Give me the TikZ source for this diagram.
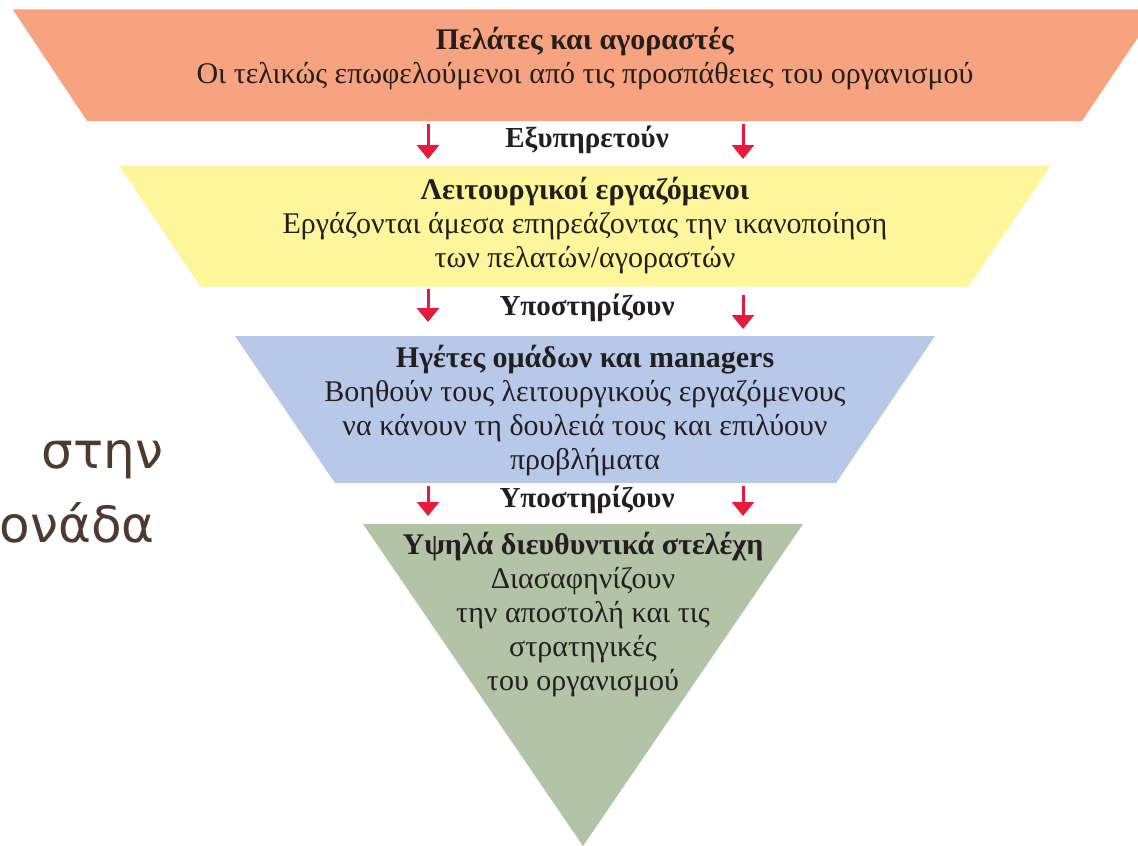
\documentclass[tikz,border=0pt]{standalone}
\usepackage{fontspec}
\setmainfont{Liberation Serif}
\newfontfamily\slidefont{DejaVu Sans}
\usetikzlibrary{arrows.meta}
\definecolor{custorange}{HTML}{F7A37F}
\definecolor{staffyellow}{HTML}{FFF59B}
\definecolor{leadblue}{HTML}{B8C8E8}
\definecolor{execgreen}{HTML}{B2C4A5}
\definecolor{arrowred}{HTML}{E8193C}
\definecolor{slidebrown}{HTML}{4E3B2E}
\definecolor{inkdark}{HTML}{231F20}

\begin{document}
\begin{tikzpicture}[x=1pt,y=-1pt,
  band/.style={align=center,text=inkdark,font=\fontsize{30}{34}\selectfont},
  flow/.style={-{Triangle[width=22pt,length=14pt]},arrowred,line width=3pt},
  flowlabel/.style={text=inkdark,font=\fontsize{29}{34}\selectfont\bfseries}]
\useasboundingbox (0,0) rectangle (1138,846);

% Customers and buyers
\fill[custorange] (12.7,9.3) -- (1157,9.3) -- (1082,121) -- (87,121) -- cycle;
\node[band] (cust) at (585,59) {\textbf{Πελάτες και αγοραστές}\\Οι τελικώς επωφελούμενοι από τις προσπάθειες του οργανισμού};

% Serve
\coordinate (s1a) at (428,124); \coordinate (s1b) at (428,159);
\coordinate (s1c) at (743,124); \coordinate (s1d) at (743,159);
\draw[flow] (s1a) -- (s1b);
\draw[flow] (s1c) -- (s1d);
\node[flowlabel] (serve) at (587,140) {Εξυπηρετούν};

% Front-line staff
\fill[staffyellow] (119,165.7) -- (1050.7,165.7) -- (968.3,286.7) -- (200.7,286.7) -- cycle;
\node[band] (staff) at (585,226) {\textbf{Λειτουργικοί εργαζόμενοι}\\Εργάζονται άμεσα επηρεάζοντας την ικανοποίηση\\των πελατών/αγοραστών};

% Support (1)
\coordinate (s2a) at (428,289); \coordinate (s2b) at (428,322);
\coordinate (s2c) at (743,295); \coordinate (s2d) at (743,329);
\draw[flow] (s2a) -- (s2b);
\draw[flow] (s2c) -- (s2d);
\node[flowlabel] (support1) at (587,308) {Υποστηρίζουν};

% Team leaders and managers
\fill[leadblue] (235,336) -- (935,336) -- (836,483) -- (335,483) -- cycle;
\node[band] (lead) at (585,411) {\textbf{Ηγέτες ομάδων και managers}\\Βοηθούν τους λειτουργικούς εργαζόμενους\\να κάνουν τη δουλειά τους και επιλύουν\\προβλήματα};

% Support (2)
\coordinate (s3a) at (428,486); \coordinate (s3b) at (428,516);
\coordinate (s3c) at (743,486); \coordinate (s3d) at (743,516);
\draw[flow] (s3a) -- (s3b);
\draw[flow] (s3c) -- (s3d);
\node[flowlabel] (support2) at (587,500) {Υποστηρίζουν};

% Top executives
\fill[execgreen] (363,524) -- (803,524) -- (583,846) -- cycle;
\node[band] (exec) at (583,615) {\textbf{Υψηλά διευθυντικά στελέχη}\\Διασαφηνίζουν\\την αποστολή και τις\\στρατηγικές\\του οργανισμού};

% Slide text, cut off at the left
\node[anchor=base west,text=slidebrown,font=\slidefont\fontsize{50}{60}\selectfont] (slide1) at (38,468) {στην};
\node[anchor=base west,text=slidebrown,font=\slidefont\fontsize{50}{60}\selectfont] (slide2) at (-4,542) {ονάδα};
\end{tikzpicture}
\end{document}
